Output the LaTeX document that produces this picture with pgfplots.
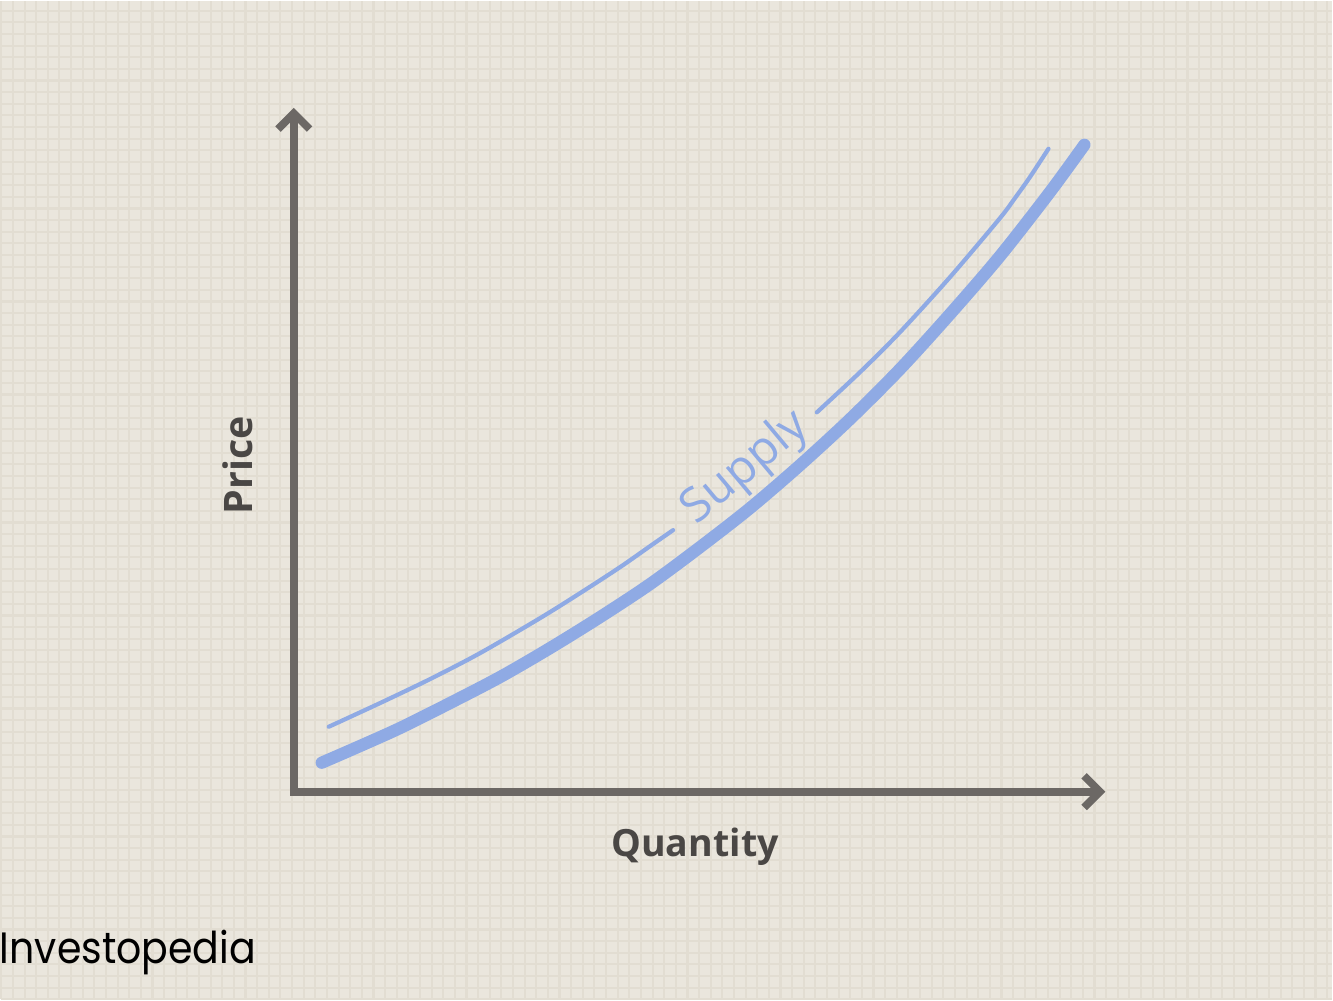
\documentclass[border=0pt]{standalone}
\usepackage{pgfplots}
\pgfplotsset{compat=1.18}
\usetikzlibrary{arrows.meta}
\usepackage{fontspec}
\setmainfont{Open Sans}
\newfontfamily\logo{Poppins}[FakeStretch=0.9]
\definecolor{bg}{RGB}{234,230,221}
\definecolor{gridc}{RGB}{226,221,210}
\definecolor{supply}{RGB}{143,170,228}
\definecolor{axisc}{RGB}{108,104,101}
\definecolor{labc}{RGB}{74,71,69}
\begin{document}
\begin{tikzpicture}
\fill[bg] (0,0) rectangle (13.33cm,10cm);
\draw[gridc, line width=0.6pt, step=0.1165cm] (0,0) grid (13.33cm,10cm);
\begin{axis}[
  at={(0,0)}, anchor=south west,
  width=13.33cm, height=10cm, scale only axis,
  xmin=0, xmax=1333, ymin=0, ymax=1000,
  hide axis, clip=false]
\draw[axisc, line width=2.2pt, -{Straight Barb[length=4.5pt,width=9pt]}] (axis cs:293,206) -- (axis cs:293,893);
\draw[axisc, line width=2.2pt, -{Straight Barb[length=4.5pt,width=9pt]}] (axis cs:289,208) -- (axis cs:1106,208);
% supply (thick)
\addplot[supply, line width=3.5pt, line cap=round, smooth] coordinates {
(321,237) (360,254) (400,272) (450,297) (500,323) (550,352) (600,383) (650,416)
(700,453) (750,492) (800,535) (850,581) (900,631) (950,686) (1000,744) (1050,808) (1085,856)};
% thin companion line, segment 1
\addplot[supply, line width=1.2pt, line cap=round, smooth] coordinates {
(328,273) (380,297) (430,321) (480,347) (540,382) (580,407) (620,433) (650,454) (673,470)};
% thin companion line, segment 2
\addplot[supply, line width=1.2pt, line cap=round, smooth] coordinates {
(817,588) (860,628) (900,668) (950,723) (1000,782) (1015,802) (1030,823) (1049,852)};
\node[supply, rotate=40, font=\fontsize{13.5}{16}\selectfont] at (axis cs:746,532) {Supply};
\node[labc, rotate=90, font=\bfseries\fontsize{11.2}{14}\selectfont] at (axis cs:237,535) {Price};
\node[labc, font=\bfseries\fontsize{10.7}{14}\selectfont] at (axis cs:695,153) {Quantity};
\node[black, anchor=west, inner sep=0pt, font=\logo\fontsize{12.5}{14}\selectfont] at (axis cs:-2,47) {Investopedia};
\end{axis}
\end{tikzpicture}
\end{document}
